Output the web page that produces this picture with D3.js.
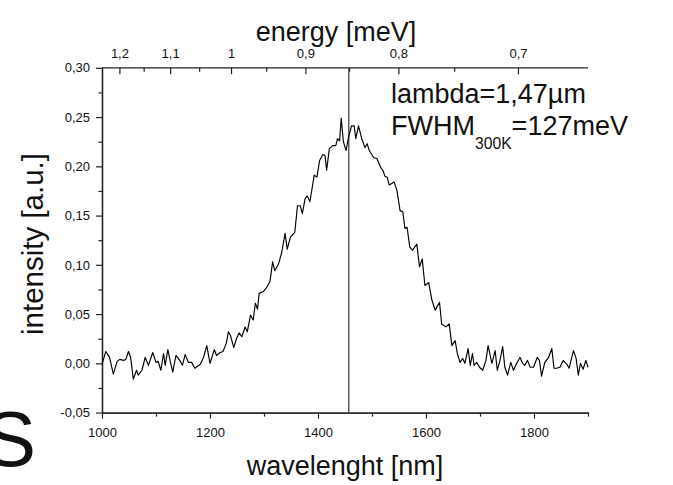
<!DOCTYPE html>
<html><head><meta charset="utf-8">
<script src="https://cdn.jsdelivr.net/npm/d3@7"></script>
<style>
body{margin:0;background:#fff}
text{font-family:"Liberation Sans",Arial,Helvetica,sans-serif;fill:#111}
</style>
</head><body>
<svg id="c" width="673" height="485"></svg>
<script>
// ---- data ----
const wavelength = [1000,1007,1014,1021,1028,1033,1040,1044,1049,1053,1058,1064,1067,1074,1080,1086,1094,1100,1104,1109,1114,1117,1122,1126,1131,1137,1144,1149,1154,1160,1166,1172,1182,1188,1194,1200,1208,1212,1219,1224,1230,1234,1238,1244,1249,1254,1259,1265,1269,1275,1280,1284,1288,1291,1299,1305,
1311,1316,1320,1327,1333,1339,1343,1349,1357,1362,1367,1371,1376,1380,1385,1393,1398,1403,1409,1413,1416,1421,1427,1433,1436,1440,1443,1447,1452,1456,1462,1467,1470,1475,1481,1487,1491,1495,1503,1509,1516,1520,1524,1528,1532,1541,1546,1552,
1557,1561,1565,1570,1575,1583,1588,1593,1598,1605,1611,1617,1625,1629,1637,1643,1648,1654,1658,1663,1668,1672,1678,1682,1686,1689,1694,1699,1705,1711,1715,1722,1728,1732,1737,1742,1746,1751,1757,1762,1768,1774,1779,1783,1788,1793,1799,1806,1810,1814,1820,1827,1833,1837,1842,1848,1854,1861,1865,1873,1878,1882,1886,1891,1896,1900];
const intensity = [-0.001,0.012,0.006,-0.011,0.002,0.004,0.003,0.004,0.012,0.006,-0.016,-0.007,-0.012,-0.007,0.006,-0.002,0.011,0.001,0.002,-0.007,0.010,-0.002,0.014,0.003,-0.009,0.008,0.003,-0.002,0.009,0.001,0.001,-0.005,-0.001,0.006,0.018,0.000,0.014,0.008,0.011,0.012,0.020,0.032,0.028,0.016,0.025,0.031,0.027,0.037,0.032,0.049,0.044,0.061,0.055,0.071,0.073,0.077,
0.083,0.103,0.094,0.101,0.113,0.132,0.116,0.128,0.133,0.160,0.160,0.152,0.167,0.170,0.164,0.191,0.189,0.206,0.212,0.211,0.196,0.218,0.221,0.221,0.228,0.226,0.249,0.225,0.216,0.228,0.241,0.241,0.228,0.241,0.228,0.219,0.223,0.216,0.209,0.208,0.199,0.196,0.190,0.189,0.181,0.184,0.176,0.155,
0.154,0.137,0.138,0.118,0.115,0.121,0.098,0.106,0.079,0.082,0.064,0.054,0.062,0.040,0.037,0.040,0.018,0.023,0.010,0.001,0.005,0.000,0.015,-0.002,0.010,-0.002,0.001,-0.004,-0.007,0.003,0.018,0.000,0.013,-0.007,0.003,0.017,-0.004,-0.012,0.001,-0.007,0.000,0.006,0.000,-0.002,0.003,-0.004,-0.004,0.006,0.003,-0.013,0.001,0.006,0.015,-0.005,-0.005,-0.004,0.003,-0.001,-0.005,0.013,0.005,-0.012,0.000,-0.006,0.003,-0.004];

const xMajorTicks = [1000,1200,1400,1600,1800];
const xMinorTicks = [1100,1300,1500,1700,1900];
const yMajorTicks = [-0.05,0,0.05,0.10,0.15,0.20,0.25,0.30];
const yMinorTicks = [-0.025,0.025,0.075,0.125,0.175,0.225,0.275];
const energyMajorTicks = [1.2,1.1,1.0,0.9,0.8,0.7];
const energyTickLabels = ["1,2","1,1","1","0,9","0,8","0,7"];
const energyMinorTicks = [1.15,1.05,0.95,0.85,0.75];
const markerWavelength = 1457;
const annotationLine1 = "lambda=1,47µm";
const annotationLine2 = ["FWHM","300K","=127meV"];
const xTitle = "wavelenght [nm]";
const yTitle = "intensity [a.u.]";
const topTitle = "energy [meV]";
const cornerLetter = "S";

// ---- layout ----
const svg = d3.select("#c");
const L = 102, R = 588, T = 67.8, B = 412.6;
const x = d3.scaleLinear().domain([1000,1900]).range([L,R]);
const y = d3.scaleLinear().domain([-0.05,0.30]).range([B,T]);
const eToNm = e => 1239.84 / e;

const loc = d3.formatLocale({decimal:",",thousands:".",grouping:[3],currency:["",""],minus:"-"});
const f2 = loc.format(".2f");

const axisColor = "#222";
function styleAxis(g){
  g.selectAll("path.domain").attr("stroke",axisColor).attr("stroke-width",1.3);
  g.selectAll(".tick line").attr("stroke",axisColor).attr("stroke-width",1.2);
  g.selectAll("text").attr("font-size",13).attr("fill","#111")
   .attr("font-family",'"Liberation Sans",Arial,sans-serif');
}

// left axis (minor then major)
svg.append("g").attr("transform",`translate(${L},0)`)
  .call(d3.axisLeft(y).tickValues(yMinorTicks).tickSize(3.5).tickSizeOuter(0).tickFormat(""))
  .call(styleAxis);
svg.append("g").attr("transform",`translate(${L},0)`)
  .call(d3.axisLeft(y).tickValues(yMajorTicks).tickSize(6).tickSizeOuter(0).tickPadding(6).tickFormat(f2))
  .call(styleAxis);

// bottom axis
svg.append("g").attr("transform",`translate(0,${B})`)
  .call(d3.axisBottom(x).tickValues(xMinorTicks).tickSize(4).tickSizeOuter(0).tickFormat(""))
  .call(styleAxis);
svg.append("g").attr("transform",`translate(0,${B})`)
  .call(d3.axisBottom(x).tickValues(xMajorTicks).tickSize(6).tickSizeOuter(0).tickPadding(9).tickFormat(d3.format("d")))
  .call(styleAxis);

// top axis (energy), ticks pointing into the plot
const topAxis = svg.append("g");
topAxis.append("line").attr("x1",L).attr("x2",R).attr("y1",T).attr("y2",T)
  .attr("stroke",axisColor).attr("stroke-width",1.3);
topAxis.selectAll("line.emin").data(energyMinorTicks).join("line").attr("class","emin")
  .attr("x1",d=>x(eToNm(d))).attr("x2",d=>x(eToNm(d))).attr("y1",T).attr("y2",T+4)
  .attr("stroke",axisColor).attr("stroke-width",1.2);
topAxis.selectAll("line.emaj").data(energyMajorTicks).join("line").attr("class","emaj")
  .attr("x1",d=>x(eToNm(d))).attr("x2",d=>x(eToNm(d))).attr("y1",T).attr("y2",T+6.5)
  .attr("stroke",axisColor).attr("stroke-width",1.2);
topAxis.selectAll("text.elab").data(energyMajorTicks).join("text").attr("class","elab")
  .attr("x",d=>x(eToNm(d))).attr("y",58).attr("text-anchor","middle")
  .attr("font-size",13).text((d,i)=>energyTickLabels[i]);

// marker line
svg.append("line").attr("x1",x(markerWavelength)).attr("x2",x(markerWavelength))
  .attr("y1",T).attr("y2",B).attr("stroke","#444").attr("stroke-width",1.3);

// data line
const pts = wavelength.map((w,i)=>[w,intensity[i]]);
svg.append("path").datum(pts)
  .attr("fill","none").attr("stroke","#000").attr("stroke-width",1.15).attr("stroke-linejoin","round")
  .attr("d",d3.line().x(d=>x(d[0])).y(d=>y(d[1])));

// titles
svg.append("text").attr("x",336).attr("y",41).attr("text-anchor","middle").attr("font-size",27).text(topTitle);
svg.append("text").attr("x",345).attr("y",475).attr("text-anchor","middle").attr("font-size",27).text(xTitle);
svg.append("text").attr("transform","translate(43,244) rotate(-90)").attr("text-anchor","middle").attr("font-size",29.5).text(yTitle);

// annotation
svg.append("text").attr("x",391).attr("y",102.5).attr("font-size",27).text(annotationLine1);
const a2 = svg.append("text").attr("x",391).attr("y",135).attr("font-size",27);
a2.append("tspan").text(annotationLine2[0]);
a2.append("tspan").attr("font-size",15.7).attr("dy",14).text(annotationLine2[1]);
a2.append("tspan").attr("dy",-14).text(annotationLine2[2]);

// partial letter at bottom-left
svg.append("text").attr("x",-16).attr("y",466).attr("font-size",78).text(cornerLetter);
</script>
</body></html>
